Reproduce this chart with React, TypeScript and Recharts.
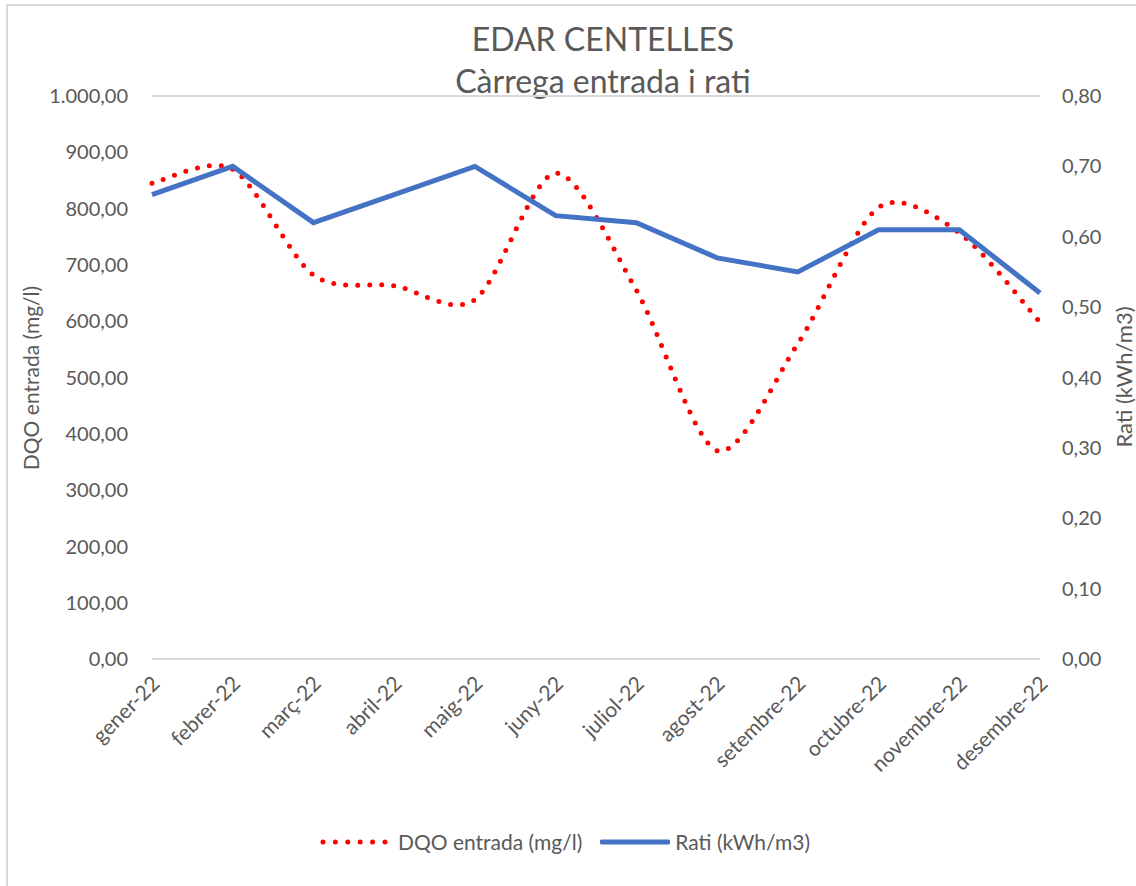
import React from "react";
import { LineChart, Line, XAxis, YAxis, CartesianGrid, Legend } from "recharts";

const months = [
  "gener-22", "febrer-22", "març-22", "abril-22", "maig-22", "juny-22",
  "juliol-22", "agost-22", "setembre-22", "octubre-22", "novembre-22", "desembre-22",
];
const dqoEntrada = [845, 870, 682, 663, 638, 863, 655, 370, 560, 802, 757, 598];
const ratiKwh = [0.66, 0.7, 0.62, 0.66, 0.7, 0.63, 0.62, 0.57, 0.55, 0.61, 0.61, 0.52];
const leftTicks = [0, 100, 200, 300, 400, 500, 600, 700, 800, 900, 1000];
const rightTicks = [0, 0.1, 0.2, 0.3, 0.4, 0.5, 0.6, 0.7, 0.8];

const data = months.map((m, i) => ({ month: m, dqo: dqoEntrada[i], rati: ratiKwh[i] }));

const FONT = "Lato, 'Open Sans', sans-serif";
const GREY = "#595959";

// Spanish/Catalan number format: 1.000,00
const fmt = (v: number) => {
  const [int, dec] = v.toFixed(2).split(".");
  return int.replace(/\B(?=(\d{3})+(?!\d))/g, ".") + "," + dec;
};

// Excel-like smoothed line (Catmull-Rom style bezier through the points, a bit tighter)
function excelSmooth(context: any) {
  let xs: number[] = [];
  let ys: number[] = [];
  const k = 1 / 7;
  return {
    areaStart() {},
    areaEnd() {},
    lineStart() {
      xs = [];
      ys = [];
    },
    point(x: number, y: number) {
      xs.push(+x);
      ys.push(+y);
    },
    lineEnd() {
      const n = xs.length;
      if (!n) return;
      context.moveTo(xs[0], ys[0]);
      for (let i = 0; i < n - 1; i++) {
        const a = Math.max(i - 1, 0);
        const d = Math.min(i + 2, n - 1);
        const c1x = xs[i] + (xs[i + 1] - xs[a]) * k;
        const c1y = ys[i] + (ys[i + 1] - ys[a]) * k;
        const c2x = xs[i + 1] - (xs[d] - xs[i]) * k;
        const c2y = ys[i + 1] - (ys[d] - ys[i]) * k;
        context.bezierCurveTo(c1x, c1y, c2x, c2y, xs[i + 1], ys[i + 1]);
      }
    },
  };
}

const MonthTick = (props: any) => {
  const { x, y, payload } = props;
  const ax = x + 9;
  const ay = y + 18;
  return (
    <text
      x={ax}
      y={ay}
      transform={`rotate(-45 ${ax} ${ay})`}
      textAnchor="end"
      fill={GREY}
      fontSize={21}
      fontFamily={FONT}
    >
      {payload.value}
    </text>
  );
};

const LegendContent = () => (
  <div
    style={{
      display: "flex",
      justifyContent: "center",
      alignItems: "center",
      fontFamily: FONT,
      fontSize: 21,
      lineHeight: "26px",
      color: GREY,
      paddingRight: 6,
    }}
  >
    <svg width={70} height={12} style={{ marginRight: 8 }}>
      <line x1={3} y1={6} x2={66} y2={6} stroke="#ff0000" strokeWidth={5} strokeDasharray="0 12.4" strokeLinecap="round" />
    </svg>
    <span style={{ marginRight: 18 }}>DQO entrada (mg/l)</span>
    <svg width={70} height={12} style={{ marginRight: 5 }}>
      <line x1={2} y1={6} x2={68} y2={6} stroke="#4472c4" strokeWidth={5} strokeLinecap="round" />
    </svg>
    <span>Rati (kWh/m3)</span>
  </div>
);

export default function App() {
  return (
    <div style={{ position: "absolute", left: 0, top: 0, width: 1136, height: 886, background: "#fff", overflow: "hidden" }}>
      <div
        style={{
          position: "absolute",
          left: 6,
          top: 4,
          width: 1140,
          height: 890,
          borderLeft: "2px solid #d9d9d9",
          borderTop: "2px solid #d9d9d9",
        }}
      />
      <div
        style={{
          position: "absolute",
          left: 0,
          top: 18,
          width: 1206,
          textAlign: "center",
          fontFamily: FONT,
          fontSize: 32,
          lineHeight: "42px",
          color: GREY,
        }}
      >
        <div>EDAR CENTELLES</div>
        <div>Càrrega entrada i rati</div>
      </div>
      <div style={{ position: "absolute", left: 0, top: 0 }}>
        <LineChart
          width={1136}
          height={886}
          data={data}
          margin={{ top: 96, right: 0, left: 52, bottom: 0 }}
        >
          <CartesianGrid vertical={false} stroke="#d9d9d9" strokeWidth={2} />
          <XAxis
            dataKey="month"
            axisLine={false}
            tickLine={false}
            interval={0}
            height={201}
            tick={<MonthTick />}
          />
          <YAxis
            yAxisId="left"
            domain={[0, 1000]}
            ticks={leftTicks}
            tickFormatter={fmt}
            axisLine={false}
            tickLine={false}
            tickSize={0}
            tickMargin={24}
            width={100}
            tick={{ fill: GREY, fontSize: 20, fontFamily: FONT }}
            label={{
              content: () => (
                <text x={30} y={378} transform="rotate(-90 30 378)" textAnchor="middle" dominantBaseline="central" fill={GREY} fontSize={21} fontFamily={FONT}>
                  DQO entrada (mg/l)
                </text>
              ),
            }}
          />
          <YAxis
            yAxisId="right"
            orientation="right"
            domain={[0, 0.8]}
            ticks={rightTicks}
            tickFormatter={fmt}
            axisLine={false}
            tickLine={false}
            tickSize={0}
            tickMargin={22}
            width={96}
            tick={{ fill: GREY, fontSize: 20, fontFamily: FONT, textAnchor: "start" }}
            label={{
              content: () => (
                <text x={1123} y={377} transform="rotate(-90 1123 377)" textAnchor="middle" dominantBaseline="central" fill={GREY} fontSize={22} fontFamily={FONT}>
                  Rati (kWh/m3)
                </text>
              ),
            }}
          />
          <Legend content={<LegendContent />} wrapperStyle={{ top: 829, left: 0, width: 1136, height: 26 }} />
          <Line
            yAxisId="left"
            dataKey="dqo"
            name="DQO entrada (mg/l)"
            type={excelSmooth as any}
            stroke="#ff0000"
            strokeWidth={5}
            strokeDasharray="0 12"
            strokeLinecap="round"
            dot={false}
            activeDot={false}
            isAnimationActive={false}
          />
          <Line
            yAxisId="right"
            dataKey="rati"
            name="Rati (kWh/m3)"
            type="linear"
            stroke="#4472c4"
            strokeWidth={5}
            dot={false}
            activeDot={false}
            isAnimationActive={false}
          />
        </LineChart>
      </div>
    </div>
  );
}
